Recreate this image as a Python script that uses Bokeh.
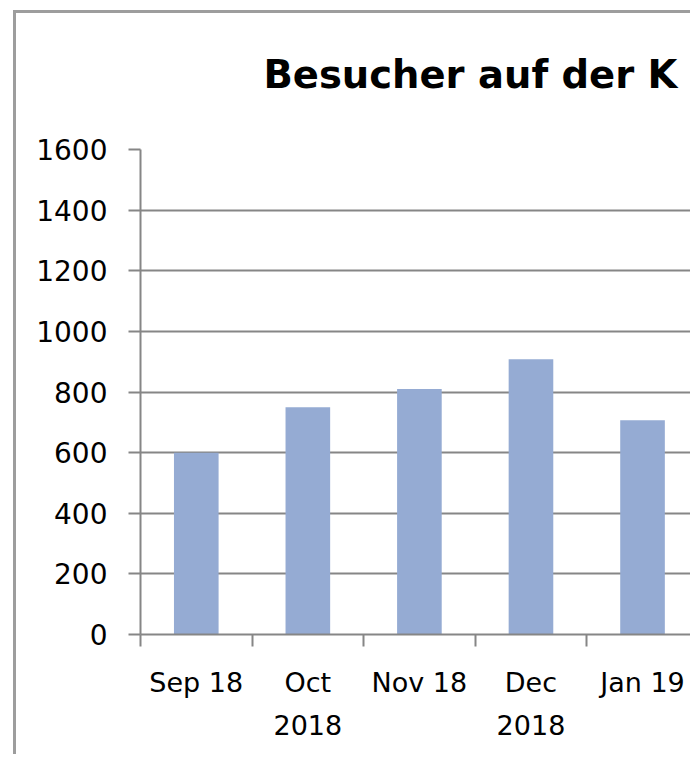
from bokeh.plotting import figure
from bokeh.models import Range1d, FixedTicker, Title, InlineStyleSheet
from bokeh.embed import file_html
from bokeh.resources import INLINE

# Data
months = ["Sep 18", "Oct\n2018", "Nov 18", "Dec\n2018", "Jan 19"]
visitors = [600, 750, 810, 908, 707]
y_ticks = [0, 200, 400, 600, 800, 1000, 1200, 1400, 1600]
title_text = "Besucher auf der K"

centers = [i + 0.5 for i in range(len(months))]
bounds = [i for i in range(len(months) + 1)]

p = figure(width=690, height=754, output_backend="svg", toolbar_location=None,
           x_range=Range1d(0, 4.93), y_range=Range1d(0, 1600),
           min_border_left=140, min_border_right=0, min_border_top=149,
           min_border_bottom=120, title=None)
p.outline_line_color = None
p.background_fill_color = "white"
p.border_fill_color = "white"

p.vbar(x=centers, top=visitors, width=0.4, fill_color="#95ABD3", line_color=None)

# y axis
p.yaxis.ticker = FixedTicker(ticks=y_ticks)
p.yaxis.axis_line_color = "#868686"
p.yaxis.axis_line_width = 2
p.yaxis.major_tick_line_color = "#868686"
p.yaxis.major_tick_line_width = 2
p.yaxis.major_tick_out = 12
p.yaxis.major_tick_in = 0
p.yaxis.minor_tick_line_color = None
p.yaxis.major_label_text_font = "DejaVu Sans"
p.yaxis.major_label_text_font_size = "28px"
p.yaxis.major_label_text_color = "black"
p.yaxis.major_label_standoff = 21

# x axis
p.xaxis.ticker = FixedTicker(ticks=centers, minor_ticks=bounds)
p.xaxis.major_label_overrides = {c: m for c, m in zip(centers, months)}
p.xaxis.axis_line_color = "#868686"
p.xaxis.axis_line_width = 2
p.xaxis.major_tick_line_color = None
p.xaxis.minor_tick_line_color = "#868686"
p.xaxis.minor_tick_line_width = 2
p.xaxis.minor_tick_out = 12
p.xaxis.minor_tick_in = 0
p.xaxis.major_label_text_font = "DejaVu Sans"
p.xaxis.major_label_text_font_size = "27px"
p.xaxis.major_label_text_color = "black"
p.xaxis.major_label_standoff = 20
p.xaxis.major_label_text_line_height = 1.4

p.xgrid.grid_line_color = None
p.ygrid.ticker = FixedTicker(ticks=y_ticks)
p.ygrid.grid_line_color = "#868686"
p.ygrid.grid_line_width = 2

# title
p.add_layout(Title(text=title_text, align="left", offset=123, vertical_align="top",
                   text_font="DejaVu Sans", text_font_style="bold", text_font_size="38.5px",
                   text_color="black", standoff=101), "above")

# outer chart border (left and top edges visible in the crop)
p.stylesheets = [InlineStyleSheet(css=(
    ":host::after { content: ''; position: absolute; left: 13px; top: 10px; "
    "right: 0; bottom: 0; border-left: 3px solid #9d9d9d; border-top: 3px solid #9d9d9d; "
    "pointer-events: none; box-sizing: border-box; }"
))]

open("out.html", "w").write(file_html(p, INLINE))
